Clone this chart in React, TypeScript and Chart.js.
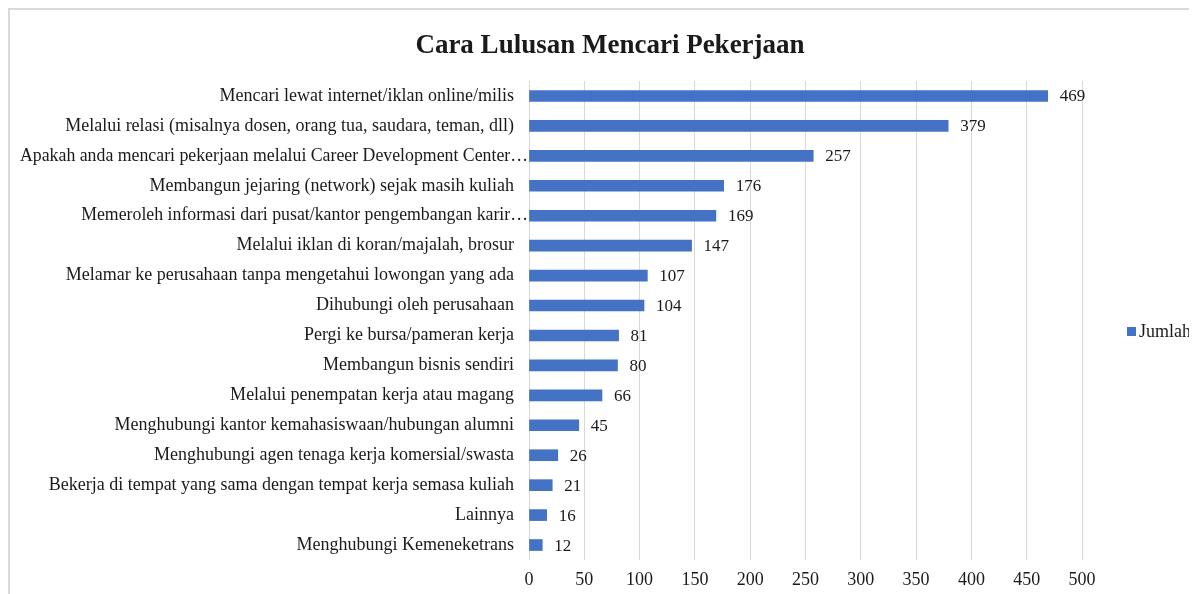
import React, { useEffect, useRef } from "react";
import { Chart, registerables } from "chart.js";

Chart.register(...registerables);

const TITLE = "Cara Lulusan Mencari Pekerjaan";
const SERIES_NAME = "Jumlah";
const CATEGORIES = [
  "Mencari lewat internet/iklan online/milis",
  "Melalui relasi (misalnya dosen, orang tua, saudara, teman, dll)",
  "Apakah anda mencari pekerjaan melalui Career Development Center…",
  "Membangun jejaring (network) sejak masih kuliah",
  "Memeroleh informasi dari pusat/kantor pengembangan karir…",
  "Melalui iklan di koran/majalah, brosur",
  "Melamar ke perusahaan tanpa mengetahui lowongan yang ada",
  "Dihubungi oleh perusahaan",
  "Pergi ke bursa/pameran kerja",
  "Membangun bisnis sendiri",
  "Melalui penempatan kerja atau magang",
  "Menghubungi kantor kemahasiswaan/hubungan alumni",
  "Menghubungi agen tenaga kerja komersial/swasta",
  "Bekerja di tempat yang sama dengan tempat kerja semasa kuliah",
  "Lainnya",
  "Menghubungi Kemeneketrans",
];
const VALUES = [469, 379, 257, 176, 169, 147, 107, 104, 81, 80, 66, 45, 26, 21, 16, 12];
const X_MIN = 0;
const X_MAX = 500;
const X_STEP = 50;

const BAR_COLOR = "#4472C4";
const TEXT_COLOR = "#1a1a1a";
const FONT = "'Liberation Serif', 'Times New Roman', serif";

const isTruncated = (s: string) => s.endsWith("…");

export default function App() {
  const ref = useRef<HTMLCanvasElement | null>(null);

  useEffect(() => {
    if (!ref.current) return;
    document.body.style.overflow = "hidden";

    const overlay = {
      id: "overlay",
      afterDatasetsDraw(chart: any) {
        const ctx = chart.ctx;
        const meta = chart.getDatasetMeta(0);
        ctx.save();
        ctx.font = `17px ${FONT}`;
        ctx.fillStyle = TEXT_COLOR;
        ctx.textAlign = "left";
        ctx.textBaseline = "middle";
        meta.data.forEach((bar: any, i: number) => {
          ctx.fillText(String(VALUES[i]), bar.x + 12, bar.y + 1);
        });
        // truncated category labels overflow closer to the axis
        ctx.font = `17.8px ${FONT}`;
        ctx.textAlign = "right";
        meta.data.forEach((bar: any, i: number) => {
          if (isTruncated(CATEGORIES[i])) {
            ctx.fillText(CATEGORIES[i], chart.chartArea.left - 1, bar.y);
          }
        });
        // title
        ctx.font = `bold 27px ${FONT}`;
        ctx.textAlign = "center";
        ctx.fillText(TITLE, 600, 36);
        // legend
        ctx.fillStyle = BAR_COLOR;
        ctx.fillRect(1117, 317, 9, 9);
        ctx.fillStyle = TEXT_COLOR;
        ctx.font = `18px ${FONT}`;
        ctx.textAlign = "left";
        ctx.fillText(SERIES_NAME, 1129, 322);
        ctx.restore();
      },
    };

    const chart = new Chart(ref.current, {
      type: "bar",
      data: {
        labels: CATEGORIES,
        datasets: [
          {
            label: SERIES_NAME,
            data: VALUES,
            backgroundColor: BAR_COLOR,
            barThickness: 11,
          },
        ],
      },
      options: {
        indexAxis: "y",
        animation: false,
        responsive: false,
        maintainAspectRatio: false,
        layout: { padding: { top: 71, left: 10, right: 115, bottom: 0 } },
        plugins: {
          legend: { display: false },
          title: { display: false },
          tooltip: { enabled: false },
        },
        scales: {
          x: {
            min: X_MIN,
            max: X_MAX,
            ticks: {
              stepSize: X_STEP,
              padding: 9,
              color: TEXT_COLOR,
              font: { family: FONT, size: 18 },
            },
            grid: { color: "#d9d9d9", lineWidth: 1, drawTicks: false },
            border: { display: false },
            afterFit: (scale: any) => {
              scale.height = 34;
            },
          },
          y: {
            ticks: {
              padding: 15,
              color: (c: any) =>
                isTruncated(CATEGORIES[c.index] || "") ? "rgba(0,0,0,0)" : TEXT_COLOR,
              font: { family: FONT, size: 18 },
              autoSkip: false,
            },
            grid: { display: false, drawTicks: false },
            border: { display: false },
            afterFit: (scale: any) => {
              scale.width = 509;
            },
          },
        },
      },
      plugins: [overlay],
    });

    return () => chart.destroy();
  }, []);

  return (
    <div
      style={{
        width: 1189,
        height: 586,
        borderLeft: "2px solid #d9d9d9",
        borderTop: "2px solid #d9d9d9",
        boxSizing: "border-box",
        background: "#ffffff",
      }}
    >
      <canvas ref={ref} width={1187} height={584} style={{ display: "block" }} />
    </div>
  );
}
